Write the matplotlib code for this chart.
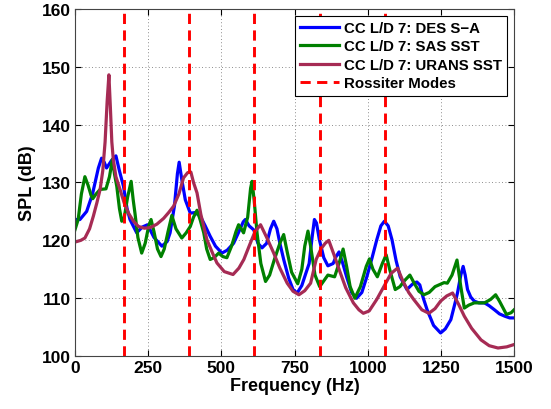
import matplotlib
matplotlib.use("Agg")
import matplotlib.pyplot as plt

plt.rcParams['font.family'] = ['Liberation Sans', 'DejaVu Sans']
plt.rcParams['font.weight'] = 'bold'

# DES S-A
des_f = [0, 17, 40, 60, 80, 91, 100, 108, 125, 140, 152, 166, 178, 188, 211, 230, 248, 270, 297, 315,
         325, 340, 350, 356, 365, 377, 394, 410, 428, 445, 462, 480, 502, 520, 542, 560, 575, 582, 595,
         611, 625, 639, 655, 668, 679, 690, 700, 713, 730, 745, 759, 775, 790, 800, 810, 818, 825, 835,
         850, 864, 882, 892, 902, 915, 928, 945, 962, 980, 997, 1015, 1031, 1045, 1057, 1070, 1083,
         1097, 1111, 1134, 1150, 1157, 1168, 1178, 1190, 1203, 1225, 1249, 1265, 1284, 1300, 1307,
         1318, 1326, 1333, 1341, 1352, 1364, 1380, 1399, 1415, 1433, 1450, 1468, 1485, 1500]
des_spl = [123.6, 123.6, 125, 128, 132.5, 134.2, 133.5, 132.5, 133.8, 134.6, 132, 129.3, 125.5, 123.6,
           121.3, 122.3, 122.7, 120.5, 119, 119.8, 121.3, 126, 131.5, 133.5, 130.5, 127, 124.7, 124.8,
           124.2, 122.5, 120.7, 119, 117.8, 118.3, 119.5, 121.5, 123.2, 123.6, 122.5, 121.8, 119.5,
           118.7, 119.5, 122, 123.3, 122, 119.5, 116.7, 113.5, 111.5, 110.9, 112.2, 114.5, 116, 120.5,
           123.6, 123, 120.1, 117, 115.6, 116, 117.2, 118, 116, 113.7, 111, 110, 111, 113.7, 117, 120.1,
           122.5, 123.3, 122.5, 120.1, 116.5, 113.7, 111.5, 112.3, 112.6, 112.8, 112.3, 110, 108, 105.3,
           104, 104.7, 106.3, 109.5, 111, 114, 115.5, 114, 111.5, 110.2, 109.5, 109.2, 109.2, 108.7,
           108, 107.3, 106.9, 106.6, 106.6]

# SAS SST
sas_f = [0, 11, 22, 34, 45, 55, 61, 72, 86, 106, 118, 128, 135, 143, 152, 160, 168, 180, 192, 199, 205,
         215, 228, 240, 252, 260, 270, 282, 294, 305, 318, 331, 345, 365, 380, 394, 405, 417, 428, 440,
         450, 462, 475, 491, 505, 519, 535, 550, 559, 568, 576, 590, 600, 605, 612, 622, 635, 651, 665,
         680, 700, 713, 725, 740, 761, 775, 785, 796, 805, 820, 836, 850, 864, 887, 905, 916, 928, 940,
         956, 975, 995, 1006, 1018, 1033, 1050, 1063, 1075, 1094, 1110, 1125, 1144, 1160, 1175, 1192,
         1210, 1230, 1261, 1272, 1288, 1305, 1318, 1330, 1345, 1364, 1399, 1420, 1437, 1450, 1474,
         1490, 1500]
sas_spl = [121.8, 123.6, 128, 131, 129.5, 127.8, 127.2, 128, 128.8, 128.9, 131, 134, 131.5, 129.3,
           125.5, 123.3, 123.8, 127.5, 130.2, 127, 124.7, 120.5, 117.8, 119.5, 122.5, 123.6, 121.5,
           118.5, 117.2, 118.5, 121.5, 124.3, 122, 120.4, 121.3, 122.4, 124, 125.2, 123.5, 121.3,
           118.5, 116.7, 117, 117.8, 117.2, 117, 119, 121.5, 122.7, 122, 121.3, 124, 129, 130.2, 127,
           121.3, 116, 112.9, 114, 116.5, 119.5, 121, 118, 114.5, 112.5, 115, 119, 121.6, 119, 114,
           112, 113, 114, 113.7, 116.5, 118.5, 115.5, 112, 110, 112, 115.5, 116.8, 115, 113.7, 116,
           117.5, 115, 111.5, 112, 113, 114, 112.5, 111.2, 110.6, 111, 112, 112.7, 112.6, 114, 116.6,
           112, 108.3, 108.8, 109.2, 109.2, 109.8, 110.6, 109.5, 107.2, 107.5, 108]

# URANS SST
urans_f = [0, 20, 34, 50, 63, 75, 86, 95, 103, 110, 116, 121, 126, 131, 140, 154, 168, 183, 200, 217,
           237, 257, 280, 303, 320, 337, 355, 371, 385, 396, 405, 417, 430, 451, 470, 485, 510, 540,
           560, 577, 595, 615, 634, 655, 679, 700, 725, 745, 765, 785, 805, 824, 840, 855, 867, 885,
           905, 925, 951, 970, 985, 1005, 1031, 1055, 1080, 1102, 1120, 1140, 1157, 1185, 1209, 1230,
           1249, 1270, 1290, 1310, 1330, 1355, 1387, 1415, 1445, 1475, 1500]
urans_spl = [119.7, 120, 120.4, 122, 124.2, 126.5, 128.8, 132, 137, 144, 148.6, 143, 137, 134, 131,
             128.8, 126.5, 124.7, 123.3, 122.4, 122.1, 122.2, 122.8, 123.8, 124.8, 125.9, 128, 130.8,
             131.7, 131.8, 130, 128.2, 124.5, 120.1, 117.8, 116.1, 114.6, 114.1, 115.2, 116.7, 119,
             121.5, 122.7, 120.5, 117.8, 115.2, 112.6, 111.2, 110.6, 111.3, 112.6, 116.7, 118.5, 119.5,
             120, 117.5, 114.6, 111.8, 109.2, 108, 107.4, 107.8, 109.8, 112, 114.3, 115.2, 113, 111,
             109.8, 108, 107.4, 108.2, 109.5, 110.4, 110.9, 109, 106.9, 104.8, 102.8, 101.8, 101.4,
             101.6, 102]

# Rossiter mode frequencies
rossiter = [168, 391, 613, 836, 1059]

fig = plt.figure(figsize=(5.51, 4.10), dpi=100)
ax = fig.add_axes([0.136, 0.129, 0.797, 0.847])

ax.plot(des_f, des_spl, color=(0, 0, 1), lw=2.3, label='CC L/D 7: DES S\u2212A')
ax.plot(sas_f, sas_spl, color=(0, 0.5, 0), lw=2.3, label='CC L/D 7: SAS SST')
ax.plot(urans_f, urans_spl, color=(0.65, 0.17, 0.33), lw=2.3, label='CC L/D 7: URANS SST')
for i, f in enumerate(rossiter):
    ax.axvline(f, color='red', lw=2.1, ls=(0, (3.5, 2.2)),
               label='Rossiter Modes' if i == 0 else None)

ax.set_xlim(0, 1500)
ax.set_ylim(100, 160)
ax.set_xticks(range(0, 1501, 250))
ax.set_yticks(range(100, 161, 10))
ax.tick_params(direction='in', labelsize=12.5, length=4, top=True, right=True, pad=3)
for lbl in ax.get_xticklabels() + ax.get_yticklabels():
    lbl.set_fontweight('bold')
ax.grid(True, ls=(0, (1, 3)), color='black', lw=0.6, alpha=0.6)
for s in ax.spines.values():
    s.set_linewidth(0.8)
    s.set_color('#444444')

ax.set_xlabel('Frequency (Hz)', fontsize=13, fontweight='bold', labelpad=1)
ax.set_ylabel('SPL (dB)', fontsize=13, fontweight='bold', labelpad=4)

leg = ax.legend(loc='upper right', prop={'weight': 'bold', 'size': 10.8},
                fancybox=False, framealpha=1, edgecolor='black', borderaxespad=0.45,
                handlelength=2.6, handletextpad=0.35, labelspacing=0.3, borderpad=0.35)
leg.get_frame().set_linewidth(0.8)

fig.savefig('out.png', dpi=100, facecolor='white')
